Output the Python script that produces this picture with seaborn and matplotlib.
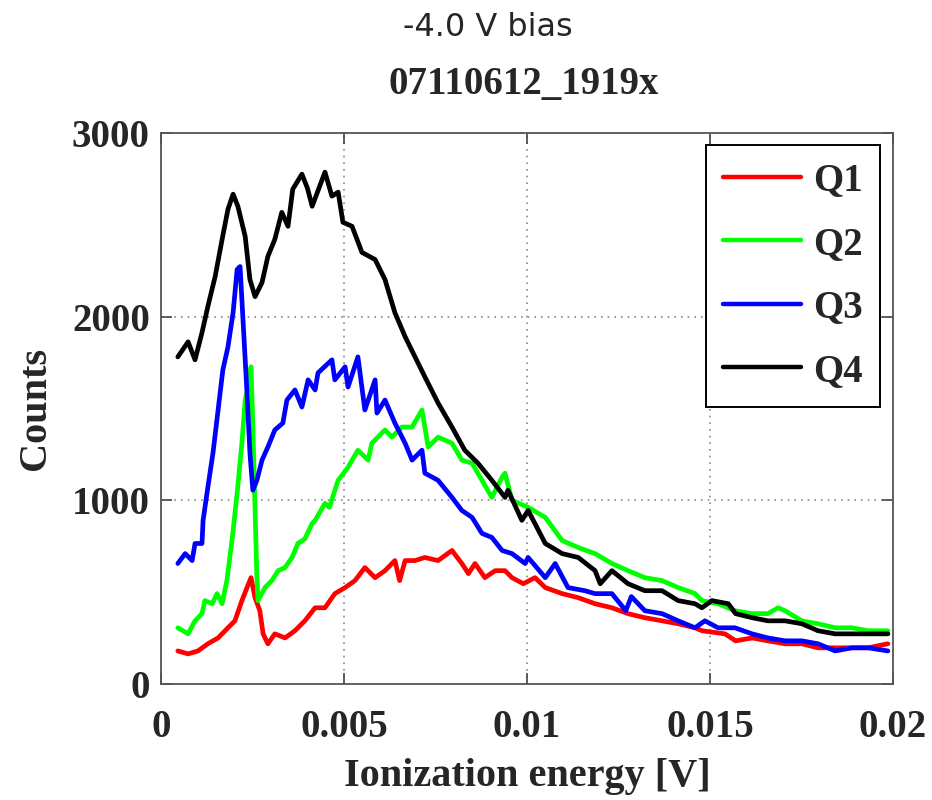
import matplotlib
matplotlib.use("Agg")
import matplotlib.pyplot as plt
import pandas as pd
import seaborn as sns

# values (x in V, y in counts)
q1_x = [0.00046, 0.00074, 0.00101, 0.00128, 0.00156, 0.00183, 0.00202, 0.00221, 0.00235, 0.00246,
        0.00257, 0.00270, 0.00279, 0.00292, 0.00311, 0.00339, 0.00366, 0.00393, 0.00421, 0.00448,
        0.00475, 0.00503, 0.00530, 0.00557, 0.00585, 0.00612, 0.00639, 0.00652, 0.00667, 0.00694,
        0.00721, 0.00757, 0.00795, 0.00822, 0.00840, 0.00858, 0.00885, 0.00913, 0.00940, 0.00959,
        0.00990, 0.01022, 0.01050, 0.01096, 0.01140, 0.01186, 0.01232, 0.01276, 0.01322, 0.01369,
        0.01413, 0.01459, 0.01478, 0.01541, 0.01570, 0.01615, 0.01658, 0.01705, 0.01751, 0.01795,
        0.01842, 0.01888, 0.01932, 0.01986]
q1_y = [180, 164, 180, 219, 251, 306, 344, 454, 525, 579,
        470, 399, 273, 219, 273, 251, 290, 344, 415, 415,
        492, 525, 563, 634, 579, 617, 672, 563, 672, 672,
        689, 672, 727, 656, 601, 656, 579, 617, 617, 579,
        546, 579, 525, 492, 470, 437, 415, 383, 361, 344,
        328, 306, 290, 273, 235, 251, 235, 219, 219, 197,
        197, 197, 197, 219]

q2_x = [0.00046, 0.00074, 0.00093, 0.00112, 0.00120, 0.00140, 0.00153, 0.00167, 0.00180, 0.00194,
        0.00208, 0.00221, 0.00230, 0.00238, 0.00246, 0.00251, 0.00257, 0.00262, 0.00265, 0.00284,
        0.00303, 0.00320, 0.00339, 0.00358, 0.00374, 0.00393, 0.00413, 0.00421, 0.00448, 0.00460,
        0.00484, 0.00511, 0.00538, 0.00566, 0.00576, 0.00612, 0.00631, 0.00658, 0.00686, 0.00713,
        0.00730, 0.00757, 0.00795, 0.00822, 0.00850, 0.00877, 0.00904, 0.00932, 0.00940, 0.00959,
        0.01003, 0.01050, 0.01096, 0.01140, 0.01186, 0.01232, 0.01276, 0.01322, 0.01369, 0.01413,
        0.01459, 0.01478, 0.01522, 0.01568, 0.01615, 0.01658, 0.01686, 0.01705, 0.01751, 0.01795,
        0.01842, 0.01888, 0.01932, 0.01986]
q2_y = [306, 273, 344, 383, 454, 437, 492, 437, 563, 781,
        1038, 1311, 1546, 1617, 1727, 1399, 945, 579, 454, 525,
        563, 617, 634, 689, 765, 790, 874, 891, 984, 962,
        1109, 1180, 1273, 1219, 1311, 1383, 1344, 1399, 1399, 1492,
        1290, 1344, 1311, 1219, 1202, 1109, 1016, 1126, 1148, 1000,
        962, 907, 781, 743, 710, 656, 617, 579, 563, 525,
        492, 454, 437, 399, 383, 383, 415, 399, 344, 328,
        306, 306, 290, 290]

q3_x = [0.00046, 0.00066, 0.00085, 0.00093, 0.00112, 0.00115, 0.00128, 0.00142, 0.00156, 0.00169,
        0.00183, 0.00197, 0.00208, 0.00216, 0.00224, 0.00235, 0.00243, 0.00251, 0.00262, 0.00276,
        0.00292, 0.00311, 0.00333, 0.00344, 0.00366, 0.00385, 0.00402, 0.00421, 0.00429, 0.00467,
        0.00475, 0.00503, 0.00511, 0.00538, 0.00557, 0.00585, 0.00590, 0.00612, 0.00639, 0.00667,
        0.00686, 0.00713, 0.00721, 0.00757, 0.00795, 0.00822, 0.00850, 0.00877, 0.00904, 0.00932,
        0.00959, 0.00995, 0.01003, 0.01050, 0.01077, 0.01112, 0.01158, 0.01186, 0.01232, 0.01270,
        0.01285, 0.01322, 0.01369, 0.01413, 0.01459, 0.01486, 0.01522, 0.01568, 0.01615, 0.01658,
        0.01705, 0.01751, 0.01795, 0.01842, 0.01888, 0.01932, 0.01986]
q3_y = [656, 710, 672, 765, 765, 891, 1071, 1257, 1492, 1710,
        1836, 2022, 2257, 2273, 1984, 1585, 1257, 1055, 1109, 1219,
        1290, 1383, 1421, 1546, 1601, 1508, 1656, 1601, 1694, 1765,
        1656, 1727, 1617, 1781, 1492, 1656, 1475, 1546, 1421, 1311,
        1219, 1273, 1148, 1109, 1016, 945, 907, 820, 798, 727,
        710, 656, 689, 579, 656, 525, 508, 492, 492, 399,
        476, 399, 383, 344, 306, 344, 306, 306, 273, 251,
        235, 235, 219, 180, 197, 197, 180]

q4_x = [0.00046, 0.00074, 0.00093, 0.00112, 0.00128, 0.00148, 0.00167, 0.00183, 0.00197, 0.00210,
        0.00230, 0.00243, 0.00257, 0.00276, 0.00292, 0.00311, 0.00330, 0.00347, 0.00360, 0.00385,
        0.00400, 0.00413, 0.00448, 0.00467, 0.00484, 0.00497, 0.00522, 0.00549, 0.00585, 0.00612,
        0.00639, 0.00667, 0.00694, 0.00721, 0.00757, 0.00795, 0.00830, 0.00866, 0.00904, 0.00940,
        0.00948, 0.00986, 0.01003, 0.01050, 0.01096, 0.01140, 0.01186, 0.01200, 0.01232, 0.01276,
        0.01322, 0.01369, 0.01413, 0.01459, 0.01478, 0.01505, 0.01550, 0.01570, 0.01615, 0.01658,
        0.01705, 0.01751, 0.01795, 0.01842, 0.01888, 0.01932, 0.01986]
q4_y = [1781, 1863, 1765, 1913, 2055, 2219, 2421, 2585, 2667, 2601,
        2437, 2202, 2109, 2186, 2328, 2421, 2568, 2492, 2694, 2776,
        2700, 2601, 2787, 2656, 2678, 2514, 2492, 2350, 2311, 2202,
        2022, 1891, 1781, 1672, 1530, 1399, 1273, 1202, 1109, 1016,
        1055, 891, 945, 765, 710, 689, 617, 546, 617, 546,
        508, 508, 454, 437, 415, 454, 437, 383, 361, 344,
        344, 328, 290, 273, 273, 273, 273]

channels = ["Q1", "Q2", "Q3", "Q4"]
colors = ["#ff0000", "#00ff00", "#0000ff", "#000000"]

x_ticks = [0, 0.005, 0.01, 0.015, 0.02]
x_tick_labels = ["0", "0.005", "0.01", "0.015", "0.02"]
y_ticks = [0, 1000, 2000, 3000]
y_tick_labels = ["0", "1000", "2000", "3000"]

# long format for seaborn
series = {"Q1": (q1_x, q1_y), "Q2": (q2_x, q2_y), "Q3": (q3_x, q3_y), "Q4": (q4_x, q4_y)}
frames = []
for name, (xs, ys) in series.items():
    assert len(xs) == len(ys), name
    frames.append(pd.DataFrame({"energy": xs, "counts": ys, "channel": name}))
df = pd.concat(frames, ignore_index=True)

sns.set_theme(style="ticks")
plt.rcParams["font.family"] = ["Liberation Serif", "DejaVu Serif"]
plt.rcParams["font.weight"] = "bold"

fig = plt.figure(figsize=(9.32, 8), dpi=100)
# axes box: x 161..893 px, y 133..684 px
ax = fig.add_axes([161 / 932, 1 - 684 / 800, 732 / 932, 551 / 800])

sns.lineplot(data=df, x="energy", y="counts", hue="channel", hue_order=channels,
             palette=dict(zip(channels, colors)), estimator=None, sort=False,
             linewidth=3.4, ax=ax)

ax.set_xlim(0, 0.02)
ax.set_ylim(0, 3000)
ax.set_xticks(x_ticks)
ax.set_xticklabels(x_tick_labels)
ax.set_yticks(y_ticks)
ax.set_yticklabels(y_tick_labels)
ax.grid(True, color="#888888", linestyle=(0, (1, 3)), linewidth=1.2)

ax.tick_params(direction="in", length=8, width=1.2, top=True, right=True,
               labelsize=28, color="#444444")
ax.tick_params(axis="x", pad=18)
ax.tick_params(axis="y", pad=8)
for s in ax.spines.values():
    s.set_color("#555555")
    s.set_linewidth(1.3)

ax.set_xlabel("Ionization energy [V]", fontsize=29, fontweight="bold")
ax.set_ylabel("Counts", fontsize=29, fontweight="bold")
ax.xaxis.set_label_coords(0.5, (684 - 758) / 551)
ax.yaxis.set_label_coords((54 - 161) / 732, 0.5)

handles, labels = ax.get_legend_handles_labels()
leg = ax.legend(handles, labels, loc="upper right",
                bbox_to_anchor=((880 - 161) / 732, (684 - 145) / 551),
                fontsize=28, frameon=True, fancybox=False, framealpha=1,
                edgecolor="black", handlelength=2.0, handletextpad=0.3,
                labelspacing=0.68, borderpad=0.45, borderaxespad=0)
leg.get_frame().set_linewidth(1.4)
for line in leg.get_lines():
    line.set_linewidth(3.2)

fig.text(488 / 932, 1 - 28 / 800, "-4.0 V bias", family="DejaVu Sans",
         fontweight="normal", fontsize=23, ha="center", va="center")
fig.text(524 / 932, 1 - 85 / 800, "07110612_1919x", fontsize=28,
         fontweight="bold", ha="center", va="center")

fig.savefig("out.png", dpi=100, facecolor="white")
